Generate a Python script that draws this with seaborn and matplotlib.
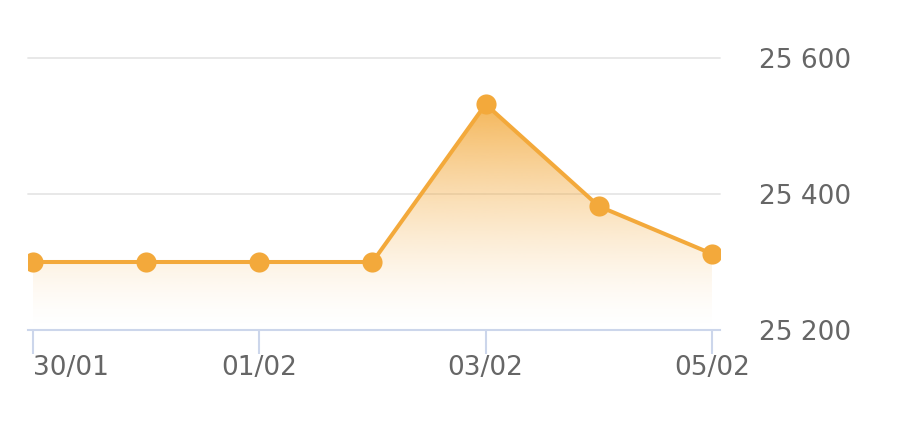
import numpy as np
import pandas as pd
import seaborn as sns
import matplotlib.pyplot as plt
from matplotlib.colors import to_rgb

sns.set_theme(style="white")
plt.rcParams['font.family'] = ['DejaVu Sans']

# data
dates = ["30/01", "31/01", "01/02", "02/02", "03/02", "04/02", "05/02"]
values = [25300, 25300, 25300, 25300, 25532, 25382, 25312]
shown_ticks = ["30/01", "01/02", "03/02", "05/02"]
y_ticks = [25200, 25400, 25600]

line_col = "#F3A93B"
text_col = "#666666"

df = pd.DataFrame({"pos": np.arange(len(dates)), "date": dates, "value": values})

fig = plt.figure(figsize=(9, 4.33), dpi=100)
ax = fig.add_axes([28 / 900, 103 / 433, 692 / 900, 272 / 433])

# gradient area under the line
poly = ax.fill_between(df["pos"], df["value"], y_ticks[0], color="none", lw=0)
grad = np.linspace(0, 1, 256).reshape(-1, 1)
rgba = np.zeros((256, 1, 4))
rgba[:, :, :3] = to_rgb(line_col)
rgba[:, :, 3] = 0.85 * grad ** 1.5
im = ax.imshow(rgba, extent=[df["pos"].min(), df["pos"].max(), y_ticks[0], max(values)],
               origin="lower", aspect="auto", zorder=2)
im.set_clip_path(poly.get_paths()[0], ax.transData)

sns.lineplot(data=df, x="pos", y="value", ax=ax, color=line_col, lw=2.9,
             marker="o", markersize=14.5, markeredgewidth=0, zorder=3)

ax.set_xlim(-0.044, 6.071)
ax.set_ylim(y_ticks[0], y_ticks[-1])

# axes styling
for s in ["top", "left", "right"]:
    ax.spines[s].set_visible(False)
ax.spines["bottom"].set_color("#CCD6EB")
ax.spines["bottom"].set_linewidth(1.5)
ax.spines["bottom"].set_zorder(4)

ax.yaxis.tick_right()
ax.set_yticks(y_ticks)
ax.set_yticklabels([f"{v:,}".replace(",", " ") for v in y_ticks])
ax.tick_params(axis="y", length=0, pad=28, labelsize=19, labelcolor=text_col)
ax.grid(axis="y", color="#E6E6E6", lw=1.3, zorder=0)
ax.set_axisbelow(True)
for gl in ax.get_ygridlines():
    gl.set_clip_on(False)

ax.set_xticks([dates.index(d) for d in shown_ticks])
ax.set_xticklabels(shown_ticks)
ax.tick_params(axis="x", bottom=True, length=17, width=1.5, color="#CCD6EB", pad=1,
               labelsize=19, labelcolor=text_col, direction="out")
ax.get_xticklabels()[0].set_horizontalalignment("left")
ax.set_xlabel("")
ax.set_ylabel("")

plt.savefig("out.png", dpi=100)
